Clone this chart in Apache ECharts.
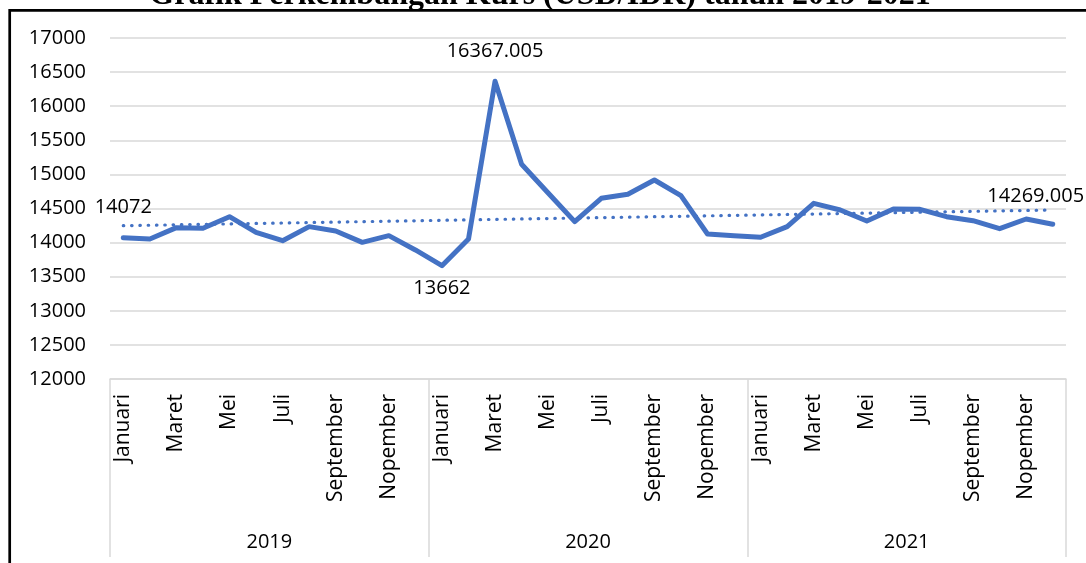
<!DOCTYPE html>
<html>
<head>
<meta charset="utf-8">
<script src="https://cdn.jsdelivr.net/npm/echarts@6/dist/echarts.min.js"></script>
<style>
  html, body { margin: 0; padding: 0; background: #fff; }
  #chart { width: 1086px; height: 563px; }
</style>
</head>
<body>
<div id="chart"></div>
<script>
// bulan (36 titik, Jan 2019 - Des 2021)
var months = [
  "Januari", "Februari", "Maret", "April", "Mei", "Juni",
  "Juli", "Agustus", "September", "Oktober", "Nopember", "Desember",
  "Januari", "Februari", "Maret", "April", "Mei", "Juni",
  "Juli", "Agustus", "September", "Oktober", "Nopember", "Desember",
  "Januari", "Februari", "Maret", "April", "Mei", "Juni",
  "Juli", "Agustus", "September", "Oktober", "Nopember", "Desember"
];
var years = ["2019", "2020", "2021"];
var kurs = [
  14072, 14053, 14219, 14210, 14380, 14151, 14028, 14234, 14170, 14004, 14102, 13892,
  13662, 14053, 16367.005, 15148, 14727, 14307, 14649, 14708, 14918, 14688, 14126, 14100,
  14078, 14234, 14576, 14478, 14317, 14492, 14488, 14380, 14321, 14204, 14346, 14269.005
];
// titik yang diberi label
var labelled = [0, 12, 14, 35];
// garis tren (awal & akhir)
var trendEnds = [14248, 14478];
var yTicks = { min: 12000, max: 17000, interval: 500 };

var font = "'Open Sans', sans-serif";
var blue = "#4472C4";
var gridGray = "#d9d9d9";

var seriesData = kurs.map(function (v, i) {
  var item = { value: v };
  if (labelled.indexOf(i) >= 0) {
    var lb = { show: true, position: "top", distance: 20 };
    if (i === 12) { lb.position = "bottom"; lb.distance = 13; }
    if (i === 35) { lb.offset = [-17, 0]; lb.distance = 18; }
    if (i === 14) { lb.distance = 20; }
    item.label = lb;
  }
  return item;
});

var chart = echarts.init(document.getElementById("chart"));
chart.setOption({
  animation: false,
  backgroundColor: "#fff",
  graphic: [
    {
      type: "rect",
      shape: { x: 9.7, y: 10.3, width: 1200, height: 700 },
      style: { fill: "none", stroke: "#000", lineWidth: 2.7 },
      silent: true
    },
    {
      type: "text",
      x: 540,
      y: 12,
      style: {
        text: "Grafik Perkembangan Kurs (USD/IDR) tahun 2019-2021",
        font: "bold 32px 'Liberation Serif', serif",
        fill: "#000",
        align: "center",
        verticalAlign: "bottom"
      },
      silent: true
    }
  ],
  grid: { left: 110, right: 20, top: 38, bottom: 184 },
  xAxis: [
    {
      type: "category",
      data: months,
      boundaryGap: true,
      axisLine: { show: true, lineStyle: { color: gridGray, width: 1.5 } },
      axisTick: { show: false },
      axisLabel: {
        interval: 1,
        rotate: 90,
        margin: 15,
        fontFamily: font,
        fontSize: 21,
        color: "#000"
      },
      splitLine: { show: false }
    },
    {
      type: "category",
      data: years,
      position: "bottom",
      boundaryGap: true,
      axisLine: { show: false },
      axisTick: { show: true, interval: 0, length: 178, lineStyle: { color: gridGray, width: 1.5 } },
      axisLabel: {
        interval: 0,
        margin: 153,
        fontFamily: font,
        fontSize: 20,
        color: "#000"
      },
      splitLine: { show: false }
    }
  ],
  yAxis: {
    type: "value",
    min: yTicks.min,
    max: yTicks.max,
    interval: yTicks.interval,
    axisLine: { show: false },
    axisTick: { show: false },
    axisLabel: {
      margin: 24,
      fontFamily: font,
      fontSize: 20,
      color: "#000",
      formatter: function (v) { return String(v); }
    },
    splitLine: { lineStyle: { color: gridGray, width: 1.5 } }
  },
  series: [
    {
      name: "Kurs",
      type: "line",
      data: seriesData,
      showSymbol: true,
      symbol: "circle",
      symbolSize: 0.1,
      itemStyle: { color: blue },
      lineStyle: { color: blue, width: 5, join: "round", cap: "round" },
      label: { fontFamily: font, fontSize: 20, color: "#000" },
      markLine: {
        silent: true,
        symbol: "none",
        label: { show: false },
        lineStyle: { color: blue, width: 3.2, type: [0.5, 7.8], cap: "round" },
        data: [[
          { coord: [0, trendEnds[0]] },
          { coord: [kurs.length - 1, trendEnds[1]] }
        ]]
      },
      z: 3
    }
  ]
});
</script>
</body>
</html>
